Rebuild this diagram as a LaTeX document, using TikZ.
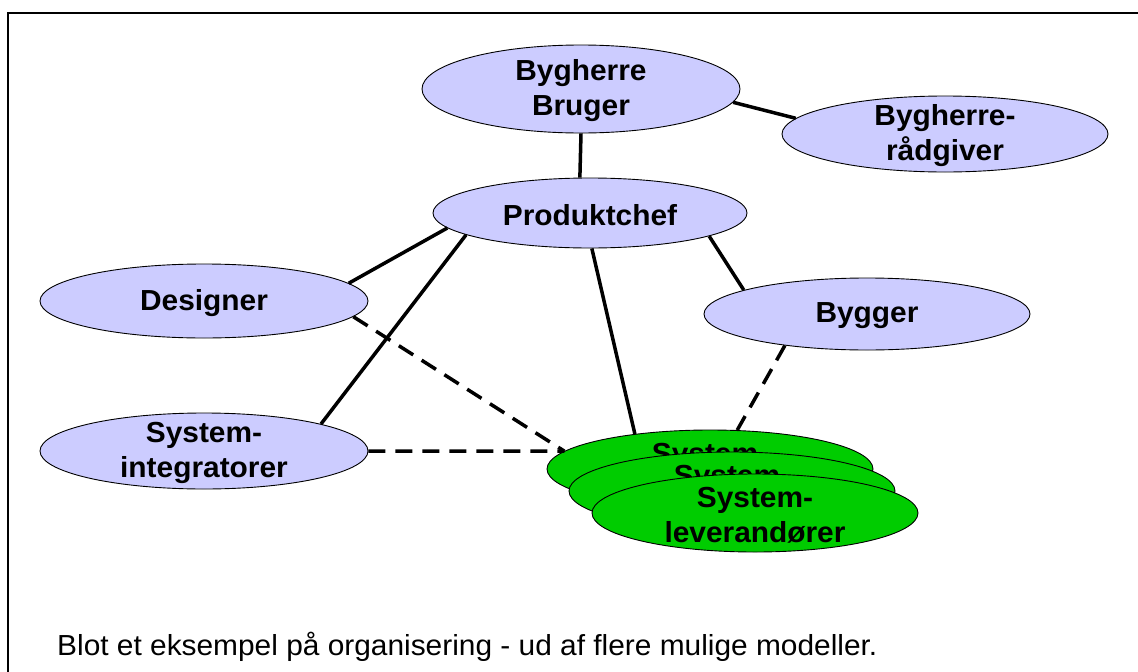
\documentclass[tikz,border=0pt]{standalone}
\usepackage{fontspec}
\setmainfont{Liberation Sans}[FakeStretch=1.03]
\usetikzlibrary{shapes.geometric}
\definecolor{lilac}{RGB}{204,204,255}
\definecolor{sgreen}{RGB}{0,204,0}
\begin{document}
\begin{tikzpicture}[x=1pt,y=-1pt,
  txt/.style={font=\bfseries\fontsize{29}{35}\selectfont, align=center, inner sep=0pt, yshift=-2pt},
  role/.style={ellipse, draw=black, line width=0.9pt, fill=lilac, inner sep=0pt},
  supplier/.style={role, fill=sgreen},
  link/.style={line width=3.5pt},
  dlink/.style={line width=3.5pt, dash pattern=on 17pt off 10pt}]
\useasboundingbox (0,0) rectangle (1138,672);
% page frame
\draw[line width=1.6pt] (8,672) -- (8,13) -- (1138,13);

% roles
\node[role, minimum width=318pt, minimum height=88pt,
      label={[txt]center:{Bygherre\\Bruger}}] (bb) at (581,89) {};
\node[role, minimum width=326pt, minimum height=76pt,
      label={[txt]center:{Bygherre-\\rådgiver}}] (br) at (945,134) {};
\node[role, minimum width=314pt, minimum height=70pt,
      label={[txt]center:{Produktchef}}] (pc) at (590,213) {};
\node[role, minimum width=328pt, minimum height=74pt,
      label={[txt]center:{Designer}}] (ds) at (204,301) {};
\node[role, minimum width=326pt, minimum height=72pt,
      label={[txt]center:{Bygger}}] (bg) at (867,314) {};
\node[role, minimum width=328pt, minimum height=76pt,
      label={[txt]center:{System-\\integratorer}}] (si) at (204,451) {};

% stacked suppliers
\node[supplier, minimum width=326pt, minimum height=78pt,
      label={[txt]center:{System-\\leverandører}}] (s1) at (710,469) {};
\node[supplier, minimum width=326pt, minimum height=78pt,
      label={[txt]center:{System-\\leverandører}}] (s2) at (732,491) {};
\node[supplier, minimum width=326pt, minimum height=78pt,
      label={[txt]center:{System-\\leverandører}}] (s3) at (755,513) {};

% solid relations
\draw[link] (bb.-5.5) -- (br.174);
\draw[link] (bb.270) -- (pc.106);
\draw[link] (pc.186) -- (ds.7);
\draw[link] (pc.190.6) -- (si.13.4);
\draw[link] (pc.273) -- (s1.155);
\draw[link] (pc.-11.8) -- (bg.169.2);

% dashed relations
\draw[dlink] (ds.-6.4) -- (s1.173.4);
\draw[dlink] (si.0) -- (s1.173.4);
\draw[dlink] (bg.201) -- (s1.55);

% caption
\node[anchor=base west, inner sep=0pt, font=\fontsize{29}{35}\selectfont] (note) at (57,655)
  {Blot et eksempel på organisering - ud af flere mulige modeller.};
\end{tikzpicture}
\end{document}
